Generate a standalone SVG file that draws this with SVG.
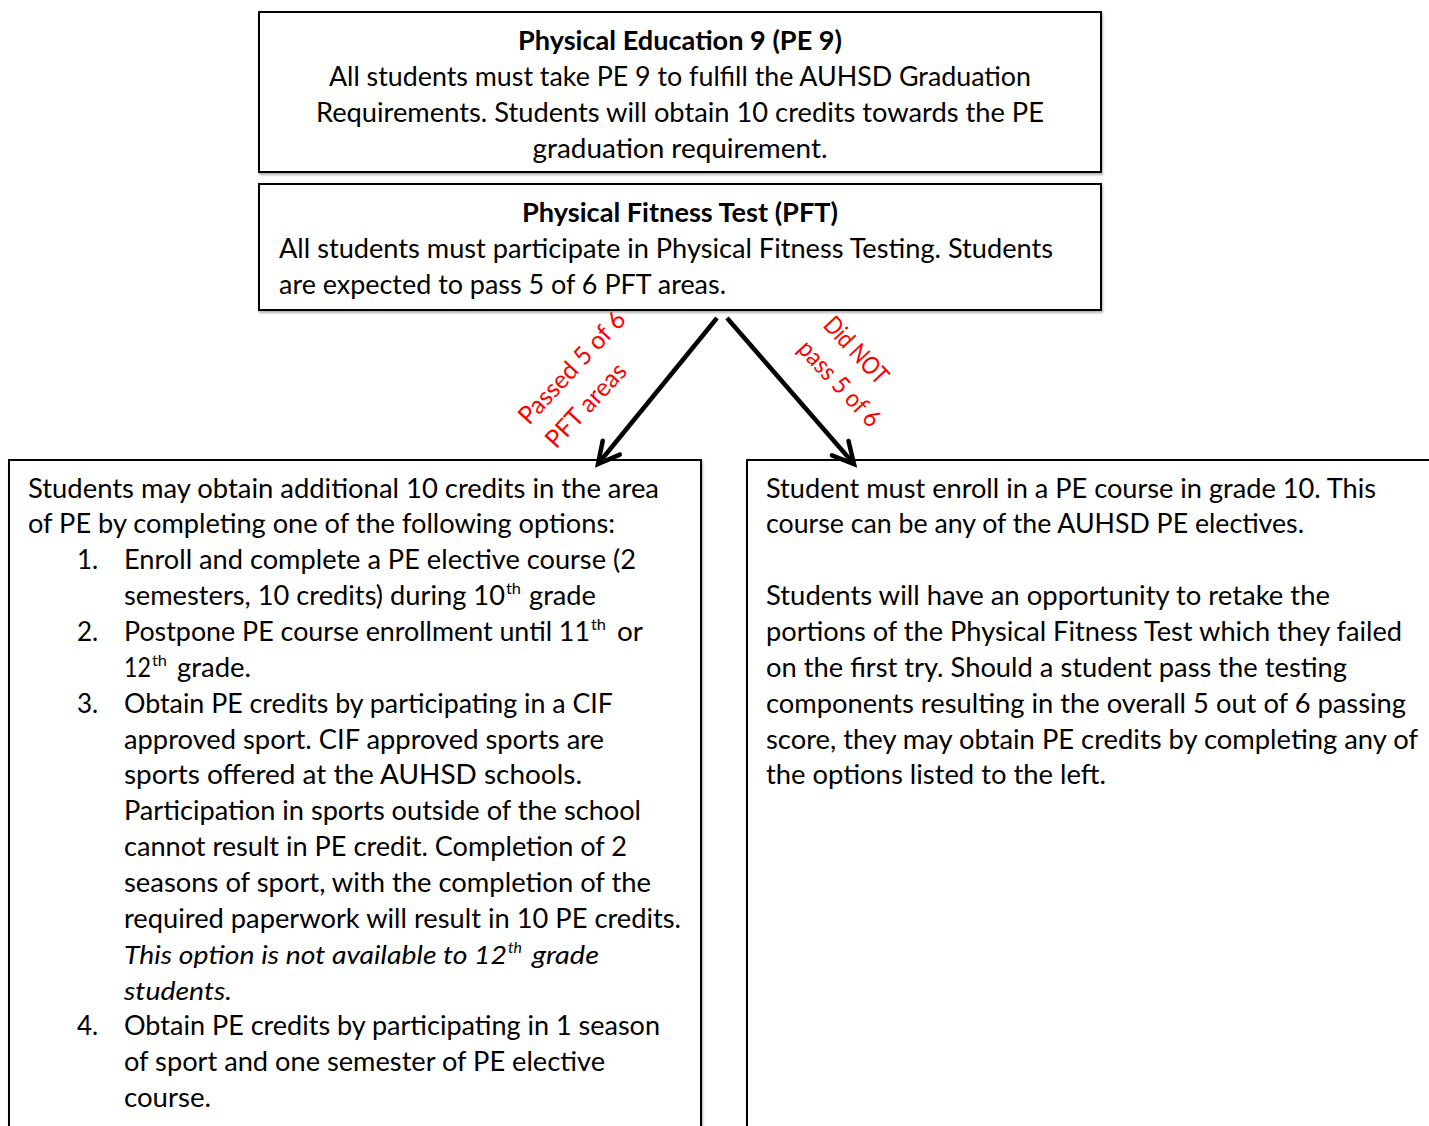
<svg xmlns="http://www.w3.org/2000/svg" width="1429" height="1126" viewBox="0 0 1429 1126">
<style>
.box{fill:#fff;stroke:#000;stroke-width:2}
.t{font-family:Lato,"Open Sans","Liberation Sans",sans-serif;font-size:26px;fill:#000}
.b{font-weight:bold}
.i{font-style:italic}
.sup{font-size:16px}
.red{font-family:Lato,"Open Sans","Liberation Sans",sans-serif;font-size:25px;fill:#ff0000}
.arrow{stroke:#000;stroke-width:4.5;fill:none}
</style>
<defs>
<filter id="sh" x="-5%" y="-5%" width="110%" height="115%">
<feDropShadow dx="1" dy="2" stdDeviation="1.2" flood-color="#000" flood-opacity="0.3"/>
</filter>
<marker id="head" markerUnits="userSpaceOnUse" markerWidth="30" markerHeight="30" refX="0" refY="0" viewBox="-25 -15 30 30" orient="auto">
<path d="M -21 -11 L 0 0 L -21 11" fill="none" stroke="#000" stroke-width="4.5" stroke-linecap="round" stroke-linejoin="miter"/>
</marker>
</defs>
<rect width="1429" height="1126" fill="#fff"/>

<g id="pe9">
<rect class="box" x="259" y="12" width="842" height="160" filter="url(#sh)"/>
<text class="t b" x="680" y="50" text-anchor="middle" textLength="324" lengthAdjust="spacingAndGlyphs">Physical Education 9 (PE 9)</text>
<text class="t" x="680" y="86" text-anchor="middle" textLength="702" lengthAdjust="spacingAndGlyphs">All students must take PE 9 to fulfill the AUHSD Graduation</text>
<text class="t" x="680" y="122" text-anchor="middle" textLength="728" lengthAdjust="spacingAndGlyphs">Requirements. Students will obtain 10 credits towards the PE</text>
<text class="t" x="680" y="158" text-anchor="middle" textLength="295" lengthAdjust="spacingAndGlyphs">graduation requirement.</text>
</g>

<g id="pft">
<rect class="box" x="259" y="184" width="842" height="126" filter="url(#sh)"/>
<text class="t b" x="680" y="222" text-anchor="middle" textLength="316" lengthAdjust="spacingAndGlyphs">Physical Fitness Test (PFT)</text>
<text class="t" x="279" y="258" textLength="774" lengthAdjust="spacingAndGlyphs">All students must participate in Physical Fitness Testing. Students</text>
<text class="t" x="279" y="294" textLength="447" lengthAdjust="spacingAndGlyphs">are expected to pass 5 of 6 PFT areas.</text>
</g>

<g id="passed">
<rect class="box" x="9" y="460" width="692" height="700" filter="url(#sh)"/>
<text class="t" x="28" y="497.5" textLength="631" lengthAdjust="spacingAndGlyphs">Students may obtain additional 10 credits in the area</text>
<text class="t" x="28" y="533.4" textLength="587" lengthAdjust="spacingAndGlyphs">of PE by completing one of the following options:</text>
<text class="t" x="77" y="569.2">1.</text>
<text class="t" x="124" y="569.2" textLength="512" lengthAdjust="spacingAndGlyphs">Enroll and complete a PE elective course (2</text>
<text class="t" x="124" y="605.1" textLength="381" lengthAdjust="spacingAndGlyphs">semesters, 10 credits) during 10</text>
<text class="t sup" x="506" y="594" textLength="15" lengthAdjust="spacingAndGlyphs">th</text>
<text class="t" x="529" y="605.1" textLength="67" lengthAdjust="spacingAndGlyphs">grade</text>
<text class="t" x="77" y="640.9">2.</text>
<text class="t" x="124" y="640.9" textLength="466" lengthAdjust="spacingAndGlyphs">Postpone PE course enrollment until 11</text>
<text class="t sup" x="591" y="630" textLength="15" lengthAdjust="spacingAndGlyphs">th</text>
<text class="t" x="617" y="640.9" textLength="26" lengthAdjust="spacingAndGlyphs">or</text>
<text class="t" x="124" y="676.8" textLength="27" lengthAdjust="spacingAndGlyphs">12</text>
<text class="t sup" x="152" y="666" textLength="15" lengthAdjust="spacingAndGlyphs">th</text>
<text class="t" x="177" y="676.8" textLength="74" lengthAdjust="spacingAndGlyphs">grade.</text>
<text class="t" x="77" y="712.7">3.</text>
<text class="t" x="124" y="712.7" textLength="489" lengthAdjust="spacingAndGlyphs">Obtain PE credits by participating in a CIF</text>
<text class="t" x="124" y="748.5" textLength="480" lengthAdjust="spacingAndGlyphs">approved sport. CIF approved sports are</text>
<text class="t" x="124" y="784.4" textLength="458" lengthAdjust="spacingAndGlyphs">sports offered at the AUHSD schools.</text>
<text class="t" x="124" y="820.2" textLength="517" lengthAdjust="spacingAndGlyphs">Participation in sports outside of the school</text>
<text class="t" x="124" y="856.1" textLength="503" lengthAdjust="spacingAndGlyphs">cannot result in PE credit. Completion of 2</text>
<text class="t" x="124" y="892" textLength="527" lengthAdjust="spacingAndGlyphs">seasons of sport, with the completion of the</text>
<text class="t" x="124" y="927.8" textLength="557" lengthAdjust="spacingAndGlyphs">required paperwork will result in 10 PE credits.</text>
<text class="t i" x="124" y="963.7" textLength="383" lengthAdjust="spacingAndGlyphs">This option is not available to 12</text>
<text class="t i sup" x="508" y="953" textLength="14" lengthAdjust="spacingAndGlyphs">th</text>
<text class="t i" x="532" y="963.7" textLength="67" lengthAdjust="spacingAndGlyphs">grade</text>
<text class="t i" x="124" y="999.5" textLength="108" lengthAdjust="spacingAndGlyphs">students.</text>
<text class="t" x="77" y="1035.4">4.</text>
<text class="t" x="124" y="1035.4" textLength="536" lengthAdjust="spacingAndGlyphs">Obtain PE credits by participating in 1 season</text>
<text class="t" x="124" y="1071.2" textLength="481" lengthAdjust="spacingAndGlyphs">of sport and one semester of PE elective</text>
<text class="t" x="124" y="1107.1" textLength="87" lengthAdjust="spacingAndGlyphs">course.</text>
</g>

<g id="notpassed">
<rect class="box" x="747" y="460" width="720" height="700" filter="url(#sh)"/>
<text class="t" x="766" y="497.5" textLength="610" lengthAdjust="spacingAndGlyphs">Student must enroll in a PE course in grade 10. This</text>
<text class="t" x="766" y="533.4" textLength="538" lengthAdjust="spacingAndGlyphs">course can be any of the AUHSD PE electives.</text>
<text class="t" x="766" y="605.1" textLength="564" lengthAdjust="spacingAndGlyphs">Students will have an opportunity to retake the</text>
<text class="t" x="766" y="640.9" textLength="636" lengthAdjust="spacingAndGlyphs">portions of the Physical Fitness Test which they failed</text>
<text class="t" x="766" y="676.8" textLength="581" lengthAdjust="spacingAndGlyphs">on the first try. Should a student pass the testing</text>
<text class="t" x="766" y="712.7" textLength="640" lengthAdjust="spacingAndGlyphs">components resulting in the overall 5 out of 6 passing</text>
<text class="t" x="766" y="748.5" textLength="652" lengthAdjust="spacingAndGlyphs">score, they may obtain PE credits by completing any of</text>
<text class="t" x="766" y="784.4" textLength="340" lengthAdjust="spacingAndGlyphs">the options listed to the left.</text>
</g>

<g id="connectors">
<line class="arrow" x1="717" y1="318" x2="598" y2="464" marker-end="url(#head)"/>
<line class="arrow" x1="727" y1="318" x2="854" y2="464" marker-end="url(#head)"/>
<g transform="translate(529,426) rotate(-47)">
<text class="red" x="0" y="0" textLength="144" lengthAdjust="spacingAndGlyphs">Passed 5 of 6</text>
<text class="red" x="1" y="36" textLength="106" lengthAdjust="spacingAndGlyphs">PFT areas</text>
</g>
<g transform="translate(822,326) rotate(47)">
<text class="red" x="0" y="0" textLength="82" lengthAdjust="spacingAndGlyphs">Did NOT</text>
<text class="red" x="0" y="35" textLength="108" lengthAdjust="spacingAndGlyphs">pass 5 of 6</text>
</g>
</g>
</svg>
